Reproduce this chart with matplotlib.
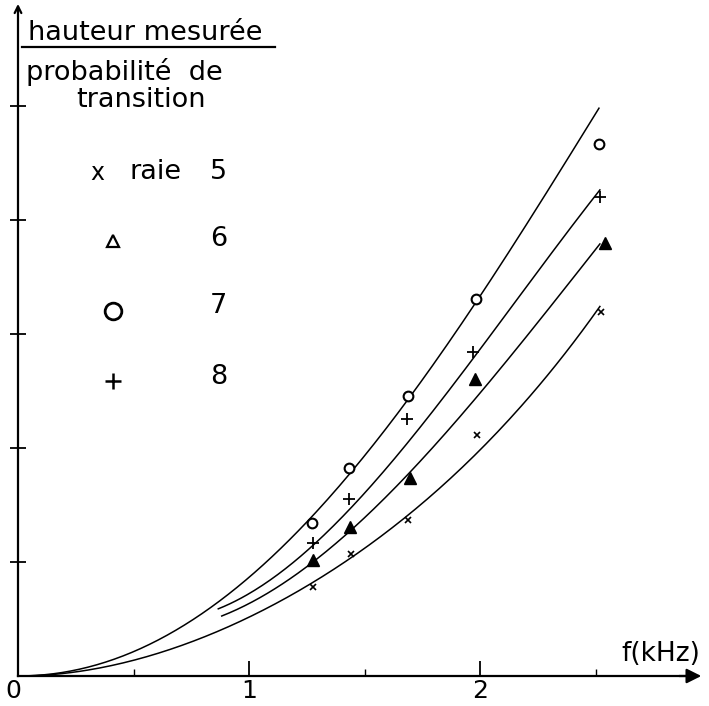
import numpy as np
import matplotlib
matplotlib.use("Agg")
import matplotlib.pyplot as plt

# measured points (f in kHz, hauteur / probabilité)
f_raie5 = [1.277, 1.442, 1.688, 1.987, 2.524]
h_raie5 = [0.781, 1.070, 1.368, 2.114, 3.193]
f_raie6 = [1.277, 1.437, 1.697, 1.978, 2.541]
h_raie6 = [1.018, 1.307, 1.737, 2.605, 3.798]
f_raie7 = [1.273, 1.433, 1.688, 1.983, 2.515]
h_raie7 = [1.342, 1.825, 2.456, 3.307, 4.667]
f_raie8 = [1.277, 1.433, 1.684, 1.970, 2.519]
h_raie8 = [1.167, 1.553, 2.254, 2.842, 4.202]

# points
cf_7 = [0.0, 0.30, 0.701, 0.866, 1.273, 1.44, 1.625, 1.688, 1.913, 1.987, 2.515]
ch_7 = [0.0, 0.04, 0.447, 0.67, 1.333, 1.82, 2.246, 2.45, 3.04, 3.31, 4.98]
cf_8 = [0.867, 1.277, 1.48, 1.776, 2.056, 2.519]
ch_8 = [0.585, 1.164, 1.553, 2.246, 3.04, 4.26]
cf_6 = [0.882, 1.277, 1.437, 1.697, 1.913, 2.087, 2.519]
ch_6 = [0.52, 1.003, 1.316, 1.728, 2.246, 2.75, 3.78]
cf_5 = [0.0, 0.30, 0.701, 0.866, 1.277, 1.444, 1.688, 2.108, 2.519]
ch_5 = [0.0, 0.03, 0.30, 0.42, 0.78, 1.06, 1.37, 2.25, 3.23]


def curve_from_origin(fx, hy):
    # polynomial without constant and linear term: tangent to the axis at 0
    fx = np.asarray(fx)
    A = np.column_stack([fx ** 2, fx ** 3, fx ** 4])
    c = np.linalg.lstsq(A, np.asarray(hy), rcond=None)[0]
    xs = np.linspace(fx.min(), fx.max(), 200)
    return xs, c[0] * xs ** 2 + c[1] * xs ** 3 + c[2] * xs ** 4


def curve_poly(fx, hy):
    p = np.polyfit(fx, hy, 3)
    xs = np.linspace(min(fx), max(fx), 200)
    return xs, np.polyval(p, xs)


fig = plt.figure(figsize=(7.09, 7.06), dpi=100)
ax = fig.add_axes([0, 0, 1, 1])
ax.set_xlim(-18 / 231, 691 / 231)
ax.set_ylim(-30 / 114, 676 / 114)

lw = 1.1
for xs, ys in [curve_from_origin(cf_7, ch_7), curve_poly(cf_8, ch_8),
               curve_poly(cf_6, ch_6), curve_from_origin(cf_5, ch_5)]:
    ax.plot(xs, ys, color="black", lw=lw)

ax.plot(f_raie5, h_raie5, "x", color="black", ms=5, mew=1.2)
ax.plot(f_raie6, h_raie6, "^", color="black", ms=8)
ax.plot(f_raie7, h_raie7, "o", mfc="white", mec="black", ms=7, mew=1.5)
ax.plot(f_raie8, h_raie8, "+", color="black", ms=8, mew=1.3)

# axes
for s in ["top", "right"]:
    ax.spines[s].set_visible(False)
ax.spines["left"].set_position(("data", 0))
ax.spines["bottom"].set_position(("data", 0))
ax.spines["left"].set_bounds(0, 5.85)
ax.spines["bottom"].set_bounds(0, 2.9)
ax.spines["left"].set_linewidth(1.6)
ax.spines["bottom"].set_linewidth(1.6)
ax.annotate("", xy=(2.97, 0), xytext=(2.85, 0),
            arrowprops=dict(arrowstyle="-|>", color="black", lw=1.6, mutation_scale=22))
ax.annotate("", xy=(0, 5.92), xytext=(0, 5.8),
            arrowprops=dict(arrowstyle="->", color="black", lw=1.6, mutation_scale=12))

ax.set_xticks([1, 2])
ax.set_xticks([0.5, 1.5, 2.5], minor=True)
ax.set_xticklabels(["1", "2"], fontsize=18)
ax.tick_params(axis="x", which="major", direction="in", length=11, width=1.3, pad=2)
ax.tick_params(axis="x", which="minor", direction="in", length=5, width=1.0)
ax.set_yticks([1, 2, 3, 4, 5])
ax.set_yticklabels([])
ax.tick_params(axis="y", direction="inout", length=11, width=1.3)
ax.text(-0.02, -0.03, "0", fontsize=18, ha="center", va="top")
ax.text(2.61, 0.08, "f(kHz)", fontsize=19, ha="left", va="bottom")

# y label as a fraction
fig.text(0.039, 0.953, "hauteur mesurée", fontsize=19.5, ha="left", va="center")
fig.add_artist(plt.Line2D([0.031, 0.388], [0.9334, 0.9334], color="black", lw=1.6))
fig.text(0.036, 0.898, "probabilité  de", fontsize=19.5, ha="left", va="center")
fig.text(0.199, 0.858, "transition", fontsize=19.5, ha="center", va="center")

# legend
fig.text(0.137, 0.755, "x", fontsize=17, ha="center", va="center")
fig.text(0.220, 0.757, "raie", fontsize=19.5, ha="center", va="center")
leg_nums = ["5", "6", "7", "8"]
leg_y = [0.757, 0.661, 0.567, 0.466]
for n, yy in zip(leg_nums, leg_y):
    fig.text(0.308, yy, n, fontsize=19.5, ha="center", va="center")
ax.plot([0.159], [0.658], "^", transform=fig.transFigure, mfc="white", mec="black",
        ms=8, mew=1.6, clip_on=False)
ax.plot([0.159], [0.559], "o", transform=fig.transFigure, mfc="white", mec="black",
        ms=12, mew=2.0, clip_on=False)
ax.plot([0.159], [0.460], "+", transform=fig.transFigure, color="black",
        ms=12, mew=1.8, clip_on=False)

fig.savefig("out.png", dpi=100, facecolor="white")
